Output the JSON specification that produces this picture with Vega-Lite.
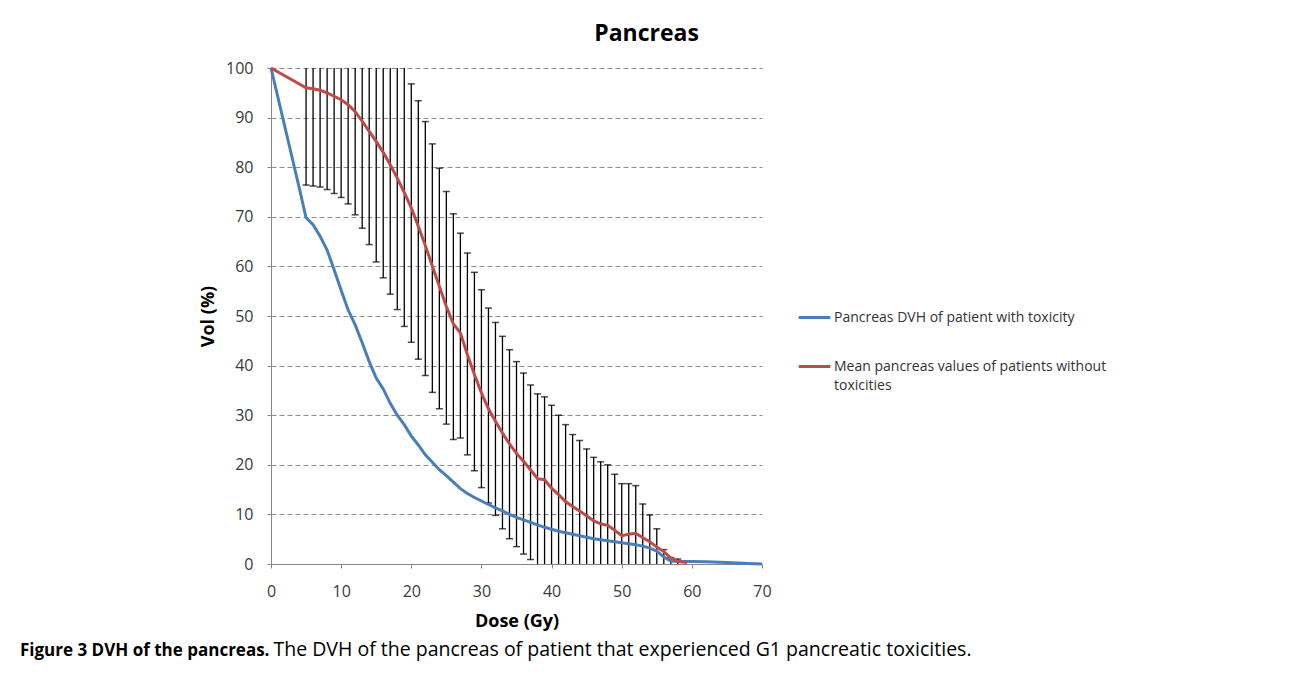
{
  "$schema": "https://vega.github.io/schema/vega-lite/v6.json",
  "autosize": {"type": "none"},
  "width": 491,
  "height": 496,
  "padding": {"left": 271, "top": 68, "right": 528, "bottom": 110},
  "background": "white",
  "title": {
    "text": "Figure 3 DVH of the pancreas.",
    "subtitle": "\u200b\u2003\u2003\u2003\u2003\u2003\u2003\u2003\u2003\u2003\u2003\u2003\u2003\u2002\u2002The DVH of the pancreas of patient that experienced G1 pancreatic toxicities.",
    "orient": "bottom",
    "anchor": "start",
    "frame": "group",
    "dx": -251,
    "offset": 13,
    "font": "Open Sans",
    "fontSize": 17,
    "fontWeight": "bold",
    "color": "#000000",
    "subtitleFont": "Open Sans",
    "subtitleFontSize": 19.5,
    "subtitleColor": "#000000",
    "subtitlePadding": -19.5
  },
  "config": {"font": "Open Sans", "view": {"stroke": null}, "style": {"guide-label": {"lineHeight": 19}}},
  "resolve": {"axis": {"x": "independent"}},
  "datasets": {
    "err": [
      {"dose": 5, "lo": 76.4, "hi": 115.6}, {"dose": 6, "lo": 76.2, "hi": 115.4}, {"dose": 7, "lo": 76.0, "hi": 115.0},
      {"dose": 8, "lo": 75.5, "hi": 114.5}, {"dose": 9, "lo": 74.7, "hi": 113.9}, {"dose": 10, "lo": 73.9, "hi": 113.3},
      {"dose": 11, "lo": 72.6, "hi": 112.6}, {"dose": 12, "lo": 70.4, "hi": 112.0}, {"dose": 13, "lo": 67.7, "hi": 110.9},
      {"dose": 14, "lo": 64.4, "hi": 110.0}, {"dose": 15, "lo": 60.9, "hi": 109.5}, {"dose": 16, "lo": 57.7, "hi": 108.3},
      {"dose": 17, "lo": 54.4, "hi": 106.6}, {"dose": 18, "lo": 51.3, "hi": 104.3}, {"dose": 19, "lo": 47.9, "hi": 101.9},
      {"dose": 20, "lo": 44.7, "hi": 96.8}, {"dose": 21, "lo": 41.3, "hi": 93.4}, {"dose": 22, "lo": 38.0, "hi": 89.2},
      {"dose": 23, "lo": 34.6, "hi": 84.7}, {"dose": 24, "lo": 31.3, "hi": 79.8}, {"dose": 25, "lo": 28.2, "hi": 75.1},
      {"dose": 26, "lo": 25.1, "hi": 70.6}, {"dose": 27, "lo": 25.4, "hi": 66.7}, {"dose": 28, "lo": 22.0, "hi": 62.7},
      {"dose": 29, "lo": 18.8, "hi": 58.8}, {"dose": 30, "lo": 15.4, "hi": 55.3}, {"dose": 31, "lo": 12.3, "hi": 51.6},
      {"dose": 32, "lo": 9.8, "hi": 48.7}, {"dose": 33, "lo": 7.1, "hi": 45.9}, {"dose": 34, "lo": 5.1, "hi": 43.2},
      {"dose": 35, "lo": 3.5, "hi": 40.8}, {"dose": 36, "lo": 2.0, "hi": 38.5}, {"dose": 37, "lo": 0.9, "hi": 36.1},
      {"dose": 38, "lo": -0.3, "hi": 34.3}, {"dose": 39, "lo": -0.5, "hi": 33.7}, {"dose": 40, "lo": -1.4, "hi": 32.0},
      {"dose": 41, "lo": -2.4, "hi": 30.0}, {"dose": 42, "lo": -3.3, "hi": 28.1}, {"dose": 43, "lo": -3.3, "hi": 26.1},
      {"dose": 44, "lo": -3.7, "hi": 24.9}, {"dose": 45, "lo": -4.0, "hi": 23.2}, {"dose": 46, "lo": -4.3, "hi": 21.5},
      {"dose": 47, "lo": -4.8, "hi": 20.6}, {"dose": 48, "lo": -4.6, "hi": 20.0}, {"dose": 49, "lo": -4.5, "hi": 18.1},
      {"dose": 50, "lo": -4.8, "hi": 16.2}, {"dose": 51, "lo": -4.2, "hi": 16.2}, {"dose": 52, "lo": -3.4, "hi": 15.8},
      {"dose": 53, "lo": -2.1, "hi": 12.1}, {"dose": 54, "lo": -1.5, "hi": 9.9}, {"dose": 55, "lo": -1.1, "hi": 7.1},
      {"dose": 56, "lo": -0.5, "hi": 2.9}, {"dose": 57, "lo": -0.3, "hi": 1.3}, {"dose": 58, "lo": -0.2, "hi": 1.0}
    ],
    "lines": [
      {"series": "Pancreas DVH of patient with toxicity", "dose": 0, "vol": 100},
      {"series": "Pancreas DVH of patient with toxicity", "dose": 1, "vol": 94},
      {"series": "Pancreas DVH of patient with toxicity", "dose": 2, "vol": 88},
      {"series": "Pancreas DVH of patient with toxicity", "dose": 3, "vol": 82},
      {"series": "Pancreas DVH of patient with toxicity", "dose": 4, "vol": 76},
      {"series": "Pancreas DVH of patient with toxicity", "dose": 5, "vol": 69.8},
      {"series": "Pancreas DVH of patient with toxicity", "dose": 6, "vol": 68.4},
      {"series": "Pancreas DVH of patient with toxicity", "dose": 7, "vol": 66.1},
      {"series": "Pancreas DVH of patient with toxicity", "dose": 8, "vol": 63.3},
      {"series": "Pancreas DVH of patient with toxicity", "dose": 9, "vol": 59.3},
      {"series": "Pancreas DVH of patient with toxicity", "dose": 10, "vol": 55.2},
      {"series": "Pancreas DVH of patient with toxicity", "dose": 11, "vol": 51.2},
      {"series": "Pancreas DVH of patient with toxicity", "dose": 12, "vol": 48.2},
      {"series": "Pancreas DVH of patient with toxicity", "dose": 13, "vol": 44.6},
      {"series": "Pancreas DVH of patient with toxicity", "dose": 14, "vol": 40.8},
      {"series": "Pancreas DVH of patient with toxicity", "dose": 15, "vol": 37.5},
      {"series": "Pancreas DVH of patient with toxicity", "dose": 16, "vol": 35.3},
      {"series": "Pancreas DVH of patient with toxicity", "dose": 17, "vol": 32.4},
      {"series": "Pancreas DVH of patient with toxicity", "dose": 18, "vol": 30.0},
      {"series": "Pancreas DVH of patient with toxicity", "dose": 19, "vol": 28.1},
      {"series": "Pancreas DVH of patient with toxicity", "dose": 20, "vol": 25.8},
      {"series": "Pancreas DVH of patient with toxicity", "dose": 21, "vol": 24.0},
      {"series": "Pancreas DVH of patient with toxicity", "dose": 22, "vol": 22.0},
      {"series": "Pancreas DVH of patient with toxicity", "dose": 23, "vol": 20.5},
      {"series": "Pancreas DVH of patient with toxicity", "dose": 24, "vol": 19.0},
      {"series": "Pancreas DVH of patient with toxicity", "dose": 25, "vol": 17.8},
      {"series": "Pancreas DVH of patient with toxicity", "dose": 26, "vol": 16.5},
      {"series": "Pancreas DVH of patient with toxicity", "dose": 27, "vol": 15.2},
      {"series": "Pancreas DVH of patient with toxicity", "dose": 28, "vol": 14.2},
      {"series": "Pancreas DVH of patient with toxicity", "dose": 29, "vol": 13.4},
      {"series": "Pancreas DVH of patient with toxicity", "dose": 30, "vol": 12.7},
      {"series": "Pancreas DVH of patient with toxicity", "dose": 31, "vol": 12.0},
      {"series": "Pancreas DVH of patient with toxicity", "dose": 32, "vol": 11.3},
      {"series": "Pancreas DVH of patient with toxicity", "dose": 33, "vol": 10.7},
      {"series": "Pancreas DVH of patient with toxicity", "dose": 34, "vol": 10.0},
      {"series": "Pancreas DVH of patient with toxicity", "dose": 35, "vol": 9.4},
      {"series": "Pancreas DVH of patient with toxicity", "dose": 36, "vol": 8.9},
      {"series": "Pancreas DVH of patient with toxicity", "dose": 37, "vol": 8.4},
      {"series": "Pancreas DVH of patient with toxicity", "dose": 38, "vol": 7.9},
      {"series": "Pancreas DVH of patient with toxicity", "dose": 39, "vol": 7.4},
      {"series": "Pancreas DVH of patient with toxicity", "dose": 40, "vol": 7.0},
      {"series": "Pancreas DVH of patient with toxicity", "dose": 41, "vol": 6.6},
      {"series": "Pancreas DVH of patient with toxicity", "dose": 42, "vol": 6.3},
      {"series": "Pancreas DVH of patient with toxicity", "dose": 43, "vol": 6.0},
      {"series": "Pancreas DVH of patient with toxicity", "dose": 44, "vol": 5.7},
      {"series": "Pancreas DVH of patient with toxicity", "dose": 45, "vol": 5.4},
      {"series": "Pancreas DVH of patient with toxicity", "dose": 46, "vol": 5.1},
      {"series": "Pancreas DVH of patient with toxicity", "dose": 47, "vol": 4.9},
      {"series": "Pancreas DVH of patient with toxicity", "dose": 48, "vol": 4.7},
      {"series": "Pancreas DVH of patient with toxicity", "dose": 49, "vol": 4.5},
      {"series": "Pancreas DVH of patient with toxicity", "dose": 50, "vol": 4.3},
      {"series": "Pancreas DVH of patient with toxicity", "dose": 51, "vol": 4.1},
      {"series": "Pancreas DVH of patient with toxicity", "dose": 52, "vol": 3.9},
      {"series": "Pancreas DVH of patient with toxicity", "dose": 53, "vol": 3.6},
      {"series": "Pancreas DVH of patient with toxicity", "dose": 54, "vol": 3.2},
      {"series": "Pancreas DVH of patient with toxicity", "dose": 55, "vol": 2.6},
      {"series": "Pancreas DVH of patient with toxicity", "dose": 56, "vol": 1.4},
      {"series": "Pancreas DVH of patient with toxicity", "dose": 57, "vol": 0.6},
      {"series": "Pancreas DVH of patient with toxicity", "dose": 58, "vol": 0.5},
      {"series": "Pancreas DVH of patient with toxicity", "dose": 60, "vol": 0.5},
      {"series": "Pancreas DVH of patient with toxicity", "dose": 62, "vol": 0.45},
      {"series": "Pancreas DVH of patient with toxicity", "dose": 65, "vol": 0.3},
      {"series": "Pancreas DVH of patient with toxicity", "dose": 68, "vol": 0.1},
      {"series": "Pancreas DVH of patient with toxicity", "dose": 70, "vol": 0},
      {"series": "Mean pancreas values of patients without toxicities", "dose": 0, "vol": 100},
      {"series": "Mean pancreas values of patients without toxicities", "dose": 5, "vol": 96.0},
      {"series": "Mean pancreas values of patients without toxicities", "dose": 6, "vol": 95.8},
      {"series": "Mean pancreas values of patients without toxicities", "dose": 7, "vol": 95.5},
      {"series": "Mean pancreas values of patients without toxicities", "dose": 8, "vol": 95.0},
      {"series": "Mean pancreas values of patients without toxicities", "dose": 9, "vol": 94.3},
      {"series": "Mean pancreas values of patients without toxicities", "dose": 10, "vol": 93.6},
      {"series": "Mean pancreas values of patients without toxicities", "dose": 11, "vol": 92.6},
      {"series": "Mean pancreas values of patients without toxicities", "dose": 12, "vol": 91.2},
      {"series": "Mean pancreas values of patients without toxicities", "dose": 13, "vol": 89.3},
      {"series": "Mean pancreas values of patients without toxicities", "dose": 14, "vol": 87.2},
      {"series": "Mean pancreas values of patients without toxicities", "dose": 15, "vol": 85.2},
      {"series": "Mean pancreas values of patients without toxicities", "dose": 16, "vol": 83.0},
      {"series": "Mean pancreas values of patients without toxicities", "dose": 17, "vol": 80.5},
      {"series": "Mean pancreas values of patients without toxicities", "dose": 18, "vol": 77.8},
      {"series": "Mean pancreas values of patients without toxicities", "dose": 19, "vol": 74.9},
      {"series": "Mean pancreas values of patients without toxicities", "dose": 20, "vol": 71.8},
      {"series": "Mean pancreas values of patients without toxicities", "dose": 21, "vol": 68.1},
      {"series": "Mean pancreas values of patients without toxicities", "dose": 22, "vol": 64.2},
      {"series": "Mean pancreas values of patients without toxicities", "dose": 23, "vol": 60.1},
      {"series": "Mean pancreas values of patients without toxicities", "dose": 24, "vol": 56.0},
      {"series": "Mean pancreas values of patients without toxicities", "dose": 25, "vol": 51.9},
      {"series": "Mean pancreas values of patients without toxicities", "dose": 26, "vol": 48.4},
      {"series": "Mean pancreas values of patients without toxicities", "dose": 27, "vol": 46.6},
      {"series": "Mean pancreas values of patients without toxicities", "dose": 28, "vol": 42.2},
      {"series": "Mean pancreas values of patients without toxicities", "dose": 29, "vol": 38.2},
      {"series": "Mean pancreas values of patients without toxicities", "dose": 30, "vol": 34.5},
      {"series": "Mean pancreas values of patients without toxicities", "dose": 31, "vol": 31.3},
      {"series": "Mean pancreas values of patients without toxicities", "dose": 32, "vol": 28.8},
      {"series": "Mean pancreas values of patients without toxicities", "dose": 33, "vol": 26.4},
      {"series": "Mean pancreas values of patients without toxicities", "dose": 34, "vol": 24.2},
      {"series": "Mean pancreas values of patients without toxicities", "dose": 35, "vol": 22.3},
      {"series": "Mean pancreas values of patients without toxicities", "dose": 36, "vol": 20.7},
      {"series": "Mean pancreas values of patients without toxicities", "dose": 37, "vol": 19.0},
      {"series": "Mean pancreas values of patients without toxicities", "dose": 38, "vol": 17.2},
      {"series": "Mean pancreas values of patients without toxicities", "dose": 39, "vol": 17.0},
      {"series": "Mean pancreas values of patients without toxicities", "dose": 40, "vol": 15.3},
      {"series": "Mean pancreas values of patients without toxicities", "dose": 41, "vol": 14.0},
      {"series": "Mean pancreas values of patients without toxicities", "dose": 42, "vol": 12.6},
      {"series": "Mean pancreas values of patients without toxicities", "dose": 43, "vol": 11.6},
      {"series": "Mean pancreas values of patients without toxicities", "dose": 44, "vol": 10.7},
      {"series": "Mean pancreas values of patients without toxicities", "dose": 45, "vol": 9.7},
      {"series": "Mean pancreas values of patients without toxicities", "dose": 46, "vol": 8.7},
      {"series": "Mean pancreas values of patients without toxicities", "dose": 47, "vol": 8.1},
      {"series": "Mean pancreas values of patients without toxicities", "dose": 48, "vol": 7.8},
      {"series": "Mean pancreas values of patients without toxicities", "dose": 49, "vol": 6.8},
      {"series": "Mean pancreas values of patients without toxicities", "dose": 50, "vol": 5.7},
      {"series": "Mean pancreas values of patients without toxicities", "dose": 51, "vol": 6.0},
      {"series": "Mean pancreas values of patients without toxicities", "dose": 52, "vol": 6.2},
      {"series": "Mean pancreas values of patients without toxicities", "dose": 53, "vol": 5.3},
      {"series": "Mean pancreas values of patients without toxicities", "dose": 54, "vol": 4.5},
      {"series": "Mean pancreas values of patients without toxicities", "dose": 55, "vol": 3.4},
      {"series": "Mean pancreas values of patients without toxicities", "dose": 56, "vol": 2.5},
      {"series": "Mean pancreas values of patients without toxicities", "dose": 57, "vol": 1.2},
      {"series": "Mean pancreas values of patients without toxicities", "dose": 58, "vol": 0.5},
      {"series": "Mean pancreas values of patients without toxicities", "dose": 59.3, "vol": 0.3}
    ]
  },
  "layer": [
    {
      "data": {"name": "err"},
      "mark": {"type": "rule", "color": "#000000", "strokeWidth": 1.3, "clip": true},
      "encoding": {
        "x": {
          "field": "dose", "type": "quantitative",
          "scale": {"domain": [0, 70], "nice": false, "zero": false},
          "axis": {
            "orient": "top", "domain": false, "ticks": false, "labels": false, "grid": false,
            "title": "Pancreas", "titleFont": "Open Sans", "titleFontSize": 23, "titleFontWeight": "bold",
            "titleColor": "#000000", "titleX": 375, "titleY": -28, "titleAlign": "center", "titleBaseline": "alphabetic"
          }
        },
        "y": {
          "field": "lo", "type": "quantitative", "title": "Vol (%)",
          "scale": {"domain": [0, 100], "nice": false},
          "axis": {
            "values": [0, 10, 20, 30, 40, 50, 60, 70, 80, 90, 100],
            "grid": true, "gridDash": [5, 3], "gridColor": "#8c8c8c", "gridWidth": 1,
            "domainColor": "#868686", "tickColor": "#868686", "tickSize": 4,
            "labelFont": "Open Sans", "labelFontSize": 16, "labelColor": "#3a3a3a", "labelPadding": 14,
            "labelFlush": false,
            "titleFont": "Open Sans", "titleFontSize": 18, "titleFontWeight": "bold", "titleColor": "#000000",
            "titlePadding": 8
          }
        },
        "y2": {"field": "hi"}
      }
    },
    {
      "data": {"name": "err"},
      "mark": {"type": "tick", "orient": "horizontal", "color": "#000000", "size": 7, "thickness": 1.5, "clip": true},
      "encoding": {
        "x": {"field": "dose", "type": "quantitative", "axis": null},
        "y": {"field": "hi", "type": "quantitative", "title": "Vol (%)"}
      }
    },
    {
      "data": {"name": "err"},
      "mark": {"type": "tick", "orient": "horizontal", "color": "#000000", "size": 7, "thickness": 1.5, "clip": true},
      "encoding": {
        "x": {"field": "dose", "type": "quantitative", "axis": null},
        "y": {"field": "lo", "type": "quantitative", "title": "Vol (%)"}
      }
    },
    {
      "data": {"name": "lines"},
      "mark": {"type": "line", "strokeWidth": 3},
      "encoding": {
        "x": {
          "field": "dose", "type": "quantitative",
          "axis": {
            "values": [0, 10, 20, 30, 40, 50, 60, 70], "grid": false,
            "domainColor": "#868686", "tickColor": "#868686", "tickSize": 4,
            "labelFont": "Open Sans", "labelFontSize": 16, "labelColor": "#3a3a3a", "labelPadding": 15,
            "labelFlush": false,
            "title": "Dose (Gy)", "titleFont": "Open Sans", "titleFontSize": 18, "titleFontWeight": "bold",
            "titleColor": "#000000", "titlePadding": 13
          }
        },
        "y": {"field": "vol", "type": "quantitative", "title": "Vol (%)"},
        "color": {
          "field": "series", "type": "nominal",
          "scale": {
            "domain": ["Pancreas DVH of patient with toxicity", "Mean pancreas values of patients without toxicities"],
            "range": ["#4A7EBB", "#BE4B48"]
          },
          "legend": {
            "orient": "none", "legendX": 526, "legendY": 232, "title": null,
            "symbolType": "stroke", "symbolStrokeWidth": 3, "symbolSize": 1000,
            "labelFont": "Open Sans", "labelFontSize": 14, "labelColor": "#333333", "labelLimit": 400,
            "labelOffset": 2, "rowPadding": 24,
            "labelExpr": "datum.label === 'Mean pancreas values of patients without toxicities' ? ['Mean pancreas values of patients without', 'toxicities'] : datum.label"
          }
        }
      }
    }
  ]
}
